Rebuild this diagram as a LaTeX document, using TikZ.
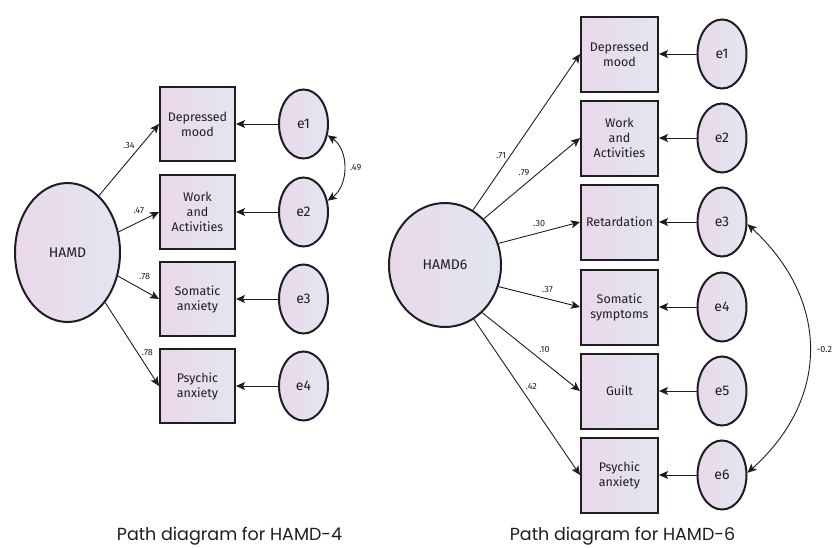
\documentclass[tikz,border=0pt]{standalone}
\usepackage{fontspec}
\setmainfont{Fira Sans}
\newfontfamily\capfont{Poppins}
\usetikzlibrary{shapes.geometric,arrows.meta}
\definecolor{boxleft}{RGB}{234,216,234}
\definecolor{boxright}{RGB}{226,230,240}
\definecolor{ink}{RGB}{30,30,34}

\begin{document}
\begin{tikzpicture}[x=1pt,y=1pt,
  obs/.style={draw=ink, line width=2pt, minimum width=75pt, minimum height=74pt, left color=boxleft, right color=boxright, align=center, text=ink, font=\fontsize{12.5}{15}\selectfont, inner sep=1pt},
  err/.style={ellipse, draw=ink, line width=2pt, minimum width=49pt, minimum height=69pt, left color=boxleft, right color=boxright, text=ink, font=\fontsize{14}{15}\selectfont},
  lat/.style={ellipse, draw=ink, line width=2pt, left color=boxleft, right color=boxright, text=ink, font=\fontsize{14}{15}\selectfont},
  load/.style={-{Stealth[length=9pt,width=8pt,inset=2pt]}, line width=0.9pt, draw=ink},
  cov/.style={{Stealth[length=9pt,width=8pt,inset=2pt]}-{Stealth[length=9pt,width=8pt,inset=2pt]}, line width=0.9pt, draw=ink},
  coef/.style={text=ink, font=\fontsize{9}{10}\selectfont, inner sep=1pt},
  caption/.style={text=ink, font=\capfont\fontsize{17.5}{20}\selectfont, anchor=base}]
\useasboundingbox (0,0) rectangle (833,-547);

\node[lat, minimum width=105pt, minimum height=139pt] (hamd) at (67.5,-252.5) {HAMD};
\foreach \n/\y/\t in {1/-124/{Depressed\\mood}, 2/-212/{Work\\and\\Activities}, 3/-299/{Somatic\\anxiety}, 4/-386/{Psychic\\anxiety}}
{
  \node[obs] (a\n) at (197.5,\y) {\t};
  \node[err] (ea\n) at (303.5,\y) {e\n};
  \draw[load] (ea\n) -- (a\n);
}
\draw[load] (hamd.61) -- (a1.west) node[coef, pos=.7, left=5pt] {.34};
\draw[load] (hamd.22) -- (a2.west) node[coef, pos=.5, above=7pt] {.47};
\draw[load] (hamd.-25) -- (a3.west) node[coef, pos=.65, above=10pt] {.78};
\draw[load] (hamd.-53) -- (a4.west) node[coef, pos=.6, right=3pt] {.78};
\draw[cov] (ea1.-25) .. controls (349,-150) and (349,-185) .. node[coef, right=5pt] {.49} (ea2.25);
\node[caption] (cap4) at (229.5,-540.5) {Path diagram for HAMD-4};

\node[lat, minimum width=112pt, minimum height=124pt] (hamd6) at (445,-265) {HAMD6};
\foreach \n/\y/\t in {1/-54/{Depressed\\mood}, 2/-138/{Work\\and\\Activities}, 3/-222/{Retardation}, 4/-307/{Somatic\\symptoms}, 5/-391/{Guilt}, 6/-475/{Psychic\\anxiety}}
{
  \node[obs, minimum width=77pt, minimum height=75pt] (b\n) at (619.5,\y) {\t};
  \node[err] (eb\n) at (722,\y) {e\n};
  \draw[load] (eb\n) -- (b\n);
}
\draw[load] (hamd6.63) -- (b1.west) node[coef, pos=.35, left=3pt] {.71};
\draw[load] (hamd6.50) -- (b2.west) node[coef, pos=.5, above left=1pt] {.79};
\draw[load] (hamd6.22) -- (b3.west) node[coef, pos=.5, above=5pt] {.30};
\draw[load] (hamd6.-22) -- (b4.west) node[coef, pos=.6, above=5pt] {.37};
\draw[load] (hamd6.-52) -- (b5.west) node[coef, pos=.55, above right=2pt] {.10};
\draw[load] (hamd6.-62) -- (b6.west) node[coef, pos=.43, right=5pt] {.42};
\draw[cov] (eb3.-5) .. controls (830,-300) and (830,-399) .. node[coef, right=6pt] {-0.2} (eb6.5);
\node[caption] (cap6) at (622.5,-540.5) {Path diagram for HAMD-6};
\end{tikzpicture}
\end{document}
